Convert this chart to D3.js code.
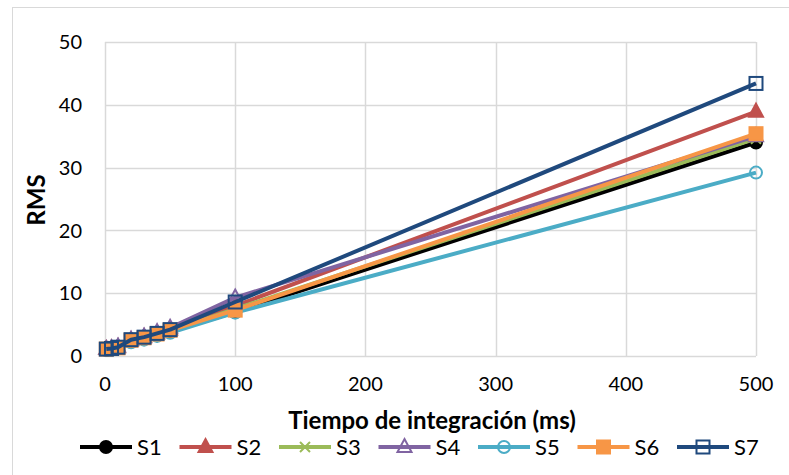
<!DOCTYPE html>
<html>
<head>
<meta charset="utf-8">
<script src="https://cdn.jsdelivr.net/npm/d3@7"></script>
<style>
  body { margin: 0; background: #fff; }
  svg { font-family: Lato, "Open Sans", sans-serif; }
</style>
</head>
<body>
<svg width="789" height="475"></svg>
<script>
var svg = d3.select("svg"),
    width = +svg.attr("width"),
    height = +svg.attr("height");

// data
var times = [1, 5, 10, 20, 30, 40, 50, 100, 500];
var s1 = [1.0, 1.1, 1.3, 2.4, 2.8, 3.3, 3.9, 7.0, 34.0];
var s2 = [1.1, 1.2, 1.4, 2.5, 3.0, 3.6, 4.2, 8.0, 38.9];
var s3 = [1.0, 1.1, 1.3, 2.4, 2.9, 3.4, 4.0, 7.5, 34.6];
var s4 = [1.1, 1.2, 1.5, 2.6, 3.1, 3.8, 4.5, 9.3, 35.0];
var s5 = [1.0, 1.0, 1.2, 2.2, 2.6, 3.2, 3.7, 6.9, 29.2];
var s6 = [1.1, 1.2, 1.3, 2.5, 2.9, 3.5, 4.1, 7.3, 35.4];
var s7 = [1.1, 1.2, 1.4, 2.6, 3.0, 3.6, 4.2, 8.6, 43.4];
var seriesNames = ["S1", "S2", "S3", "S4", "S5", "S6", "S7"];
var xTicks = [0, 100, 200, 300, 400, 500];
var yTicks = [0, 10, 20, 30, 40, 50];

var series = [
  {name: "S1", values: s1, color: "#000000", marker: "circle", filled: true},
  {name: "S2", values: s2, color: "#c0504d", marker: "triangle", filled: true},
  {name: "S3", values: s3, color: "#9bbb59", marker: "x", filled: false},
  {name: "S4", values: s4, color: "#8064a2", marker: "triangle", filled: false},
  {name: "S5", values: s5, color: "#4bacc6", marker: "circle", filled: false},
  {name: "S6", values: s6, color: "#f79646", marker: "square", filled: true},
  {name: "S7", values: s7, color: "#1f497d", marker: "square", filled: false}
];

var x = d3.scaleLinear().domain([0, 500]).range([105, 756]);
var y = d3.scaleLinear().domain([0, 50]).range([356, 42]);

// chart border (only top/left visible in the frame)
svg.append("rect")
    .attr("x", 12.5).attr("y", 7.5)
    .attr("width", 800).attr("height", 500)
    .attr("fill", "none").attr("stroke", "#d9d9d9");

// gridlines
var grid = svg.append("g");
grid.selectAll("line.h").data(yTicks).enter().append("line")
    .attr("x1", x(0)).attr("x2", x(500))
    .attr("y1", function(d) { return Math.round(y(d)) + 0.5; })
    .attr("y2", function(d) { return Math.round(y(d)) + 0.5; })
    .attr("stroke", "#d9d9d9").attr("stroke-width", 1.5);
grid.selectAll("line.v").data(xTicks).enter().append("line")
    .attr("y1", y(0)).attr("y2", y(50))
    .attr("x1", function(d) { return Math.round(x(d)) + 0.5; })
    .attr("x2", function(d) { return Math.round(x(d)) + 0.5; })
    .attr("stroke", "#d9d9d9").attr("stroke-width", 1.5);

// tick labels
svg.append("g").selectAll("text").data(yTicks).enter().append("text")
    .attr("x", 82).attr("y", function(d) { return y(d); })
    .attr("dy", "0.36em")
    .attr("text-anchor", "end")
    .attr("font-size", "20px").attr("fill", "#000")
    .text(function(d) { return d; });

svg.append("g").selectAll("text").data(xTicks).enter().append("text")
    .attr("x", function(d) { return x(d); }).attr("y", 384)
    .attr("dy", "0.36em")
    .attr("text-anchor", "middle")
    .attr("font-size", "20px").attr("fill", "#000")
    .text(function(d) { return d; });

// axis titles
svg.append("text")
    .attr("x", 432).attr("y", 420).attr("dy", "0.36em")
    .attr("text-anchor", "middle")
    .attr("font-size", "24px").attr("font-weight", "bold")
    .text("Tiempo de integración (ms)");

svg.append("text")
    .attr("transform", "translate(36,200) rotate(-90)")
    .attr("dy", "0.36em")
    .attr("text-anchor", "middle")
    .attr("font-size", "24px").attr("font-weight", "bold")
    .text("RMS");

function drawMarker(g, s, cx, cy) {
  var fill = s.filled ? s.color : "none";
  if (s.marker === "circle") {
    g.append("circle").attr("cx", cx).attr("cy", cy).attr("r", 6)
        .attr("fill", fill).attr("stroke", s.color).attr("stroke-width", 2);
  } else if (s.marker === "square") {
    g.append("rect").attr("x", cx - 6.5).attr("y", cy - 6.5)
        .attr("width", 13).attr("height", 13)
        .attr("fill", fill).attr("stroke", s.color).attr("stroke-width", 2);
  } else if (s.marker === "triangle") {
    g.append("path")
        .attr("d", "M" + cx + "," + (cy - 8) + "L" + (cx + 7) + "," + (cy + 5) + "L" + (cx - 7) + "," + (cy + 5) + "Z")
        .attr("fill", fill).attr("stroke", s.color).attr("stroke-width", 2);
  } else if (s.marker === "x") {
    g.append("path")
        .attr("d", "M" + (cx - 5) + "," + (cy - 5) + "L" + (cx + 5) + "," + (cy + 5) + "M" + (cx + 5) + "," + (cy - 5) + "L" + (cx - 5) + "," + (cy + 5))
        .attr("fill", "none").attr("stroke", s.color).attr("stroke-width", 2);
  }
}

var line = d3.line()
    .x(function(d, i) { return x(times[i]); })
    .y(function(d) { return y(d); });

series.forEach(function(s) {
  var g = svg.append("g");
  g.append("path")
      .attr("d", line(s.values))
      .attr("fill", "none")
      .attr("stroke", s.color)
      .attr("stroke-width", 4)
      .attr("stroke-linejoin", "round");
  s.values.forEach(function(v, i) {
    drawMarker(g, s, x(times[i]), y(v));
  });
});

// legend
var legendX = d3.scaleLinear().domain([0, 1]).range([80, 179.5]);
var legend = svg.append("g");
series.forEach(function(s, i) {
  var lx = legendX(i), ly = 447;
  var g = legend.append("g");
  g.append("line")
      .attr("x1", lx).attr("x2", lx + 52)
      .attr("y1", ly).attr("y2", ly)
      .attr("stroke", s.color).attr("stroke-width", 4);
  drawMarker(g, s, lx + 26, ly);
  g.append("text")
      .attr("x", lx + 57).attr("y", ly).attr("dy", "0.36em")
      .attr("font-size", "22px")
      .text(seriesNames[i]);
});
</script>
</body>
</html>
